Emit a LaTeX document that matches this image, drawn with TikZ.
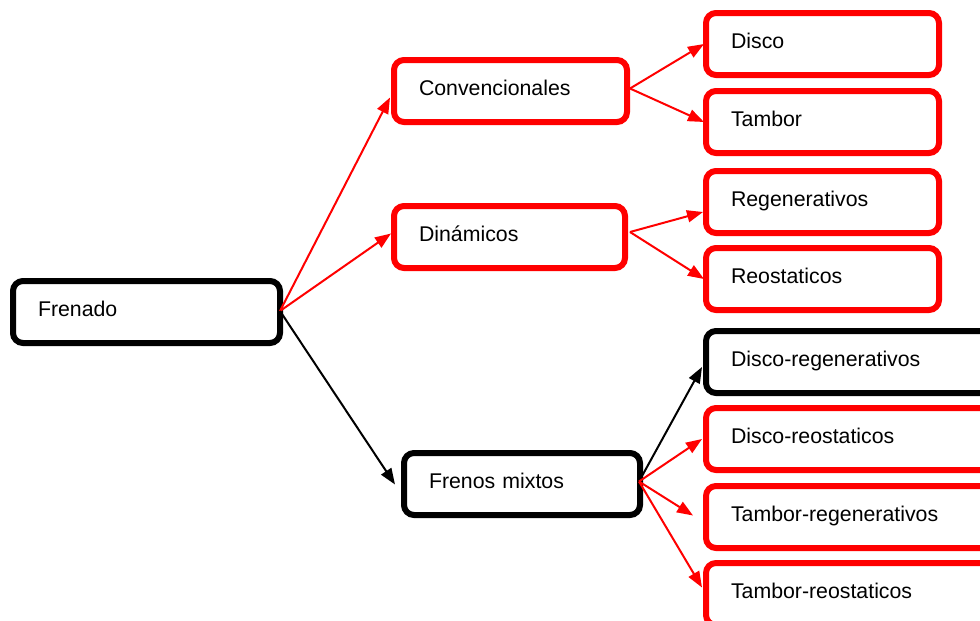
\documentclass[tikz,border=0pt]{standalone}
\usepackage{fontspec}
\setmainfont{Liberation Sans}
\usetikzlibrary{arrows.meta,calc}
\begin{document}
\begin{tikzpicture}[x=1pt,y=-1pt,
  box/.style={draw=red, rounded corners=10pt, line width=6pt,
    anchor=north west, minimum height=62pt, inner xsep=25pt, inner ysep=2pt,
    text height=15pt, text depth=6pt, align=left,
    font=\fontsize{21.3pt}{25pt}\selectfont},
  blackbox/.style={box, draw=black},
  link/.style={draw=red, line width=2pt, -{Triangle[length=16pt,width=12pt]}, red},
  blacklink/.style={link, draw=black, black}]
\useasboundingbox (0,0) rectangle (980,621);
\clip (0,0) rectangle (980,621);

% root
\node[blackbox, text width=217pt] (fren) at (10,278) {Frenado};

% first level
\node[box, text width=183pt] (conv) at (391,57) {Convencionales};
\node[box, text width=181pt] (dyn) at (391,203) {Dinámicos};
\node[blackbox, text width=186pt] (mix) at (401,450) {Frenos mixtos};

% second level
\node[box, text width=183pt] (disco) at (703,10) {Disco};
\node[box, text width=183pt] (tambor) at (703,88) {Tambor};
\node[box, text width=183pt] (regen) at (703,168) {Regenerativos};
\node[box, text width=183pt] (reost) at (703,245) {Reostaticos};
\node[blackbox, text width=260pt] (dreg) at (703,328) {Disco-regenerativos};
\node[box, text width=260pt] (dreo) at (703,405) {Disco-reostaticos};
\node[box, text width=260pt] (treg) at (703,483) {Tambor-regenerativos};
\node[box, text width=260pt] (treo) at (703,560) {Tambor-reostaticos};

% connectors
\coordinate (f0) at ($(fren.east)+(-3,-1)$);
\draw[link] (f0) -- ($(conv.west)+(-1,6.5)$);
\draw[link] (f0) -- ($(dyn.west)+(0,-3.5)$);
\draw[blacklink] (f0) -- ($(mix.west)+(-6,0.5)$);

\coordinate (c0) at ($(conv.east)+(0,-2.5)$);
\draw[link] (c0) -- ($(disco.west)+(1,0)$);
\draw[link] (c0) -- ($(tambor.west)+(1,0)$);

\coordinate (d0) at ($(dyn.east)+(2,-5)$);
\draw[link] (d0) -- ($(regen.west)+(0,10)$);
\draw[link] (d0) -- ($(reost.west)+(1,0)$);

\coordinate (m0) at ($(mix.east)+(-4,-2.5)$);
\draw[blacklink] (m0) -- ($(dreg.west)+(-1,5)$);
\draw[link] (m0) -- ($(dreo.west)+(-1,0)$);
\draw[link] (m0) -- ($(treg.west)+(-10,-1.5)$);
\draw[link] (m0) -- ($(treo.west)+(-1,-6.5)$);
\end{tikzpicture}
\end{document}
